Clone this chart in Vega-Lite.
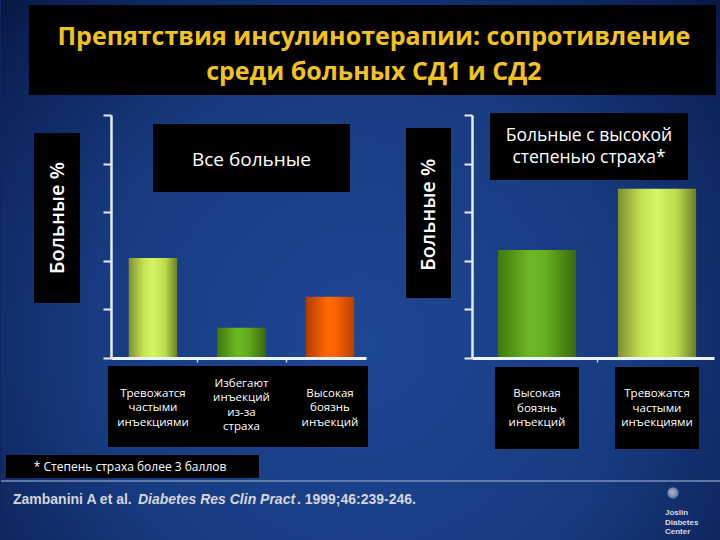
{
  "$schema": "https://vega.github.io/schema/vega-lite/v6.json",
  "width": 720,
  "height": 540,
  "autosize": {"type": "fit", "contains": "padding"},
  "padding": 0,
  "background": "#0f2560",
  "config": {"view": {"stroke": null}, "font": "Open Sans"},
  "datasets": {
    "allPatients": [
      {"reason": "Тревожатся\nчастыми\nинъекциями", "pct": 20.6},
      {"reason": "Избегают\nинъекций\nиз-за\nстраха", "pct": 6.2},
      {"reason": "Высокая\nбоязнь\nинъекций", "pct": 12.6}
    ],
    "fearful": [
      {"reason": "Высокая\nбоязнь\nинъекций", "pct": 22.2},
      {"reason": "Тревожатся\nчастыми\nинъекциями", "pct": 34.8}
    ]
  },
  "layer": [
    {
      "data": {"values": [{}]},
      "mark": {"type": "rect", "color": {"gradient": "radial", "x1": 0.5, "y1": 0.6, "r1": 0, "x2": 0.5, "y2": 0.6, "r2": 0.75, "stops": [{"offset": 0, "color": "#1e4794"}, {"offset": 0.5, "color": "#173b80"}, {"offset": 0.85, "color": "#0b1f52"}, {"offset": 1, "color": "#050d2a"}]}},
      "encoding": {
        "x": {"datum": 0, "type": "quantitative", "scale": {"domain": [0, 1], "range": [0, 720]}, "axis": null},
        "x2": {"datum": 1},
        "y": {"datum": 0, "type": "quantitative", "scale": {"domain": [0, 1], "range": [0, 540]}, "axis": null},
        "y2": {"datum": 1}
      }
    },
    {
      "data": {"values": [{"title": "Препятствия инсулинотерапии: сопротивление\nсреди больных СД1 и СД2"}]},
      "layer": [
        {
          "mark": {"type": "rect", "color": "#000000"},
          "encoding": {
            "x": {"datum": 0, "type": "quantitative", "scale": {"domain": [0, 1], "range": [28, 715]}, "axis": null},
            "x2": {"datum": 1},
            "y": {"datum": 0, "type": "quantitative", "scale": {"domain": [0, 1], "range": [5, 95]}, "axis": null},
            "y2": {"datum": 1}
          }
        },
        {
          "mark": {"type": "text", "color": "#f2c21e", "font": "Open Sans", "fontWeight": "bold", "fontSize": 25, "lineBreak": "\n", "lineHeight": 35, "align": "center", "baseline": "middle"},
          "encoding": {
            "x": {"datum": 0.502, "type": "quantitative", "axis": null},
            "y": {"datum": 0.356, "type": "quantitative", "axis": null},
            "text": {"field": "title"}
          }
        }
      ]
    },
    {
      "data": {"values": [{"t": "Больные %"}]},
      "layer": [
        {
          "mark": {"type": "rect", "color": "#000000"},
          "encoding": {
            "x": {"datum": 0, "type": "quantitative", "scale": {"domain": [0, 1], "range": [33, 79]}, "axis": null},
            "x2": {"datum": 1},
            "y": {"datum": 0, "type": "quantitative", "scale": {"domain": [0, 1], "range": [133, 303]}, "axis": null},
            "y2": {"datum": 1}
          }
        },
        {
          "mark": {"type": "text", "color": "#ffffff", "fontSize": 20, "fontWeight": 600, "angle": 270, "align": "center", "baseline": "middle"},
          "encoding": {
            "x": {"datum": 0.52, "type": "quantitative", "axis": null},
            "y": {"datum": 0.5, "type": "quantitative", "axis": null},
            "text": {"field": "t"}
          }
        }
      ]
    },
    {
      "data": {"values": [{"t": "Больные %"}]},
      "layer": [
        {
          "mark": {"type": "rect", "color": "#000000"},
          "encoding": {
            "x": {"datum": 0, "type": "quantitative", "scale": {"domain": [0, 1], "range": [405, 450]}, "axis": null},
            "x2": {"datum": 1},
            "y": {"datum": 0, "type": "quantitative", "scale": {"domain": [0, 1], "range": [128, 298]}, "axis": null},
            "y2": {"datum": 1}
          }
        },
        {
          "mark": {"type": "text", "color": "#ffffff", "fontSize": 20, "fontWeight": 600, "angle": 270, "align": "center", "baseline": "middle"},
          "encoding": {
            "x": {"datum": 0.52, "type": "quantitative", "axis": null},
            "y": {"datum": 0.51, "type": "quantitative", "axis": null},
            "text": {"field": "t"}
          }
        }
      ]
    },
    {
      "data": {"values": [{"t": "Все больные"}]},
      "layer": [
        {
          "mark": {"type": "rect", "color": "#000000"},
          "encoding": {
            "x": {"datum": 0, "type": "quantitative", "scale": {"domain": [0, 1], "range": [152, 349]}, "axis": null},
            "x2": {"datum": 1},
            "y": {"datum": 0, "type": "quantitative", "scale": {"domain": [0, 1], "range": [124, 192]}, "axis": null},
            "y2": {"datum": 1}
          }
        },
        {
          "mark": {"type": "text", "color": "#ffffff", "fontSize": 19, "align": "center", "baseline": "middle"},
          "encoding": {
            "x": {"datum": 0.5, "type": "quantitative", "axis": null},
            "y": {"datum": 0.53, "type": "quantitative", "axis": null},
            "text": {"field": "t"}
          }
        }
      ]
    },
    {
      "data": {"values": [{"t": "Больные с высокой\nстепенью страха*"}]},
      "layer": [
        {
          "mark": {"type": "rect", "color": "#000000"},
          "encoding": {
            "x": {"datum": 0, "type": "quantitative", "scale": {"domain": [0, 1], "range": [489, 687]}, "axis": null},
            "x2": {"datum": 1},
            "y": {"datum": 0, "type": "quantitative", "scale": {"domain": [0, 1], "range": [113, 180]}, "axis": null},
            "y2": {"datum": 1}
          }
        },
        {
          "mark": {"type": "text", "color": "#ffffff", "fontSize": 17.5, "lineBreak": "\n", "lineHeight": 22, "align": "center", "baseline": "middle"},
          "encoding": {
            "x": {"datum": 0.5, "type": "quantitative", "axis": null},
            "y": {"datum": 0.35, "type": "quantitative", "axis": null},
            "text": {"field": "t"}
          }
        }
      ]
    },
    {
      "data": {"values": [{}]},
      "mark": {"type": "rect", "color": "#000000"},
      "encoding": {
        "x": {"datum": 0, "type": "quantitative", "scale": {"domain": [0, 1], "range": [107, 367]}, "axis": null},
        "x2": {"datum": 1},
        "y": {"datum": 0, "type": "quantitative", "scale": {"domain": [0, 1], "range": [366, 447]}, "axis": null},
        "y2": {"datum": 1}
      }
    },
    {
      "data": {"name": "allPatients"},
      "layer": [
        {
          "mark": {"type": "bar"},
          "encoding": {
            "x": {
              "field": "reason", "type": "nominal", "sort": null,
              "scale": {"range": [110, 365], "paddingInner": 0.452, "paddingOuter": 0.167, "align": 0.6},
              "axis": {"orient": "bottom", "offset": -182, "labels": false, "title": null, "zindex": 1, "domainColor": "#eef2fa", "domainWidth": 3, "values": ["Тревожатся\nчастыми\nинъекциями", "Избегают\nинъекций\nиз-за\nстраха"], "bandPosition": 1, "tickOffset": 20, "tickSize": 4, "tickWidth": 1.5, "tickColor": "#c8d0e0"}
            },
            "y": {
              "field": "pct", "type": "quantitative",
              "scale": {"domain": [0, 50], "range": [358, 115], "nice": false},
              "axis": {"orient": "left", "offset": -110, "labels": false, "title": null, "grid": false, "zindex": 1, "values": [0, 10, 20, 30, 40, 50], "domainColor": "#e6ebf5", "domainWidth": 2.5, "tickColor": "#e6ebf5", "tickWidth": 2, "tickSize": 8}
            },
            "color": {
              "condition": [
                {"test": "indexof(datum.reason, 'Тревож') === 0", "value": {"gradient": "linear", "x1": 0, "y1": 0, "x2": 1, "y2": 0, "stops": [{"offset": 0, "color": "#7d8f2e"}, {"offset": 0.3, "color": "#c3e352"}, {"offset": 0.5, "color": "#d4f566"}, {"offset": 0.75, "color": "#bcdc4e"}, {"offset": 1, "color": "#6c7e28"}]}},
                {"test": "indexof(datum.reason, 'Избег') === 0", "value": {"gradient": "linear", "x1": 0, "y1": 0, "x2": 1, "y2": 0, "stops": [{"offset": 0, "color": "#3e780c"}, {"offset": 0.4, "color": "#6cb824"}, {"offset": 0.6, "color": "#66b020"}, {"offset": 1, "color": "#3a6a0c"}]}}
              ],
              "value": {"gradient": "linear", "x1": 0, "y1": 0, "x2": 1, "y2": 0, "stops": [{"offset": 0, "color": "#b03a00"}, {"offset": 0.45, "color": "#ff6a00"}, {"offset": 0.6, "color": "#ff6600"}, {"offset": 1, "color": "#b84000"}]}
            }
          }
        },
        {
          "transform": [{"filter": "indexof(datum.reason, 'Избег') !== 0"}],
          "mark": {"type": "text", "color": "#ffffff", "fontSize": 11.5, "lineBreak": "\n", "lineHeight": 14.5, "align": "center", "baseline": "middle"},
          "encoding": {
            "x": {"field": "reason", "type": "nominal", "sort": null},
            "y": {"datum": 0.34, "type": "quantitative", "scale": {"domain": [0, 1], "range": [366, 447]}, "axis": null},
            "text": {"field": "reason"}
          }
        },
        {
          "transform": [{"filter": "indexof(datum.reason, 'Избег') === 0"}],
          "mark": {"type": "text", "color": "#ffffff", "fontSize": 11.5, "lineBreak": "\n", "lineHeight": 14.5, "align": "center", "baseline": "middle"},
          "encoding": {
            "x": {"field": "reason", "type": "nominal", "sort": null},
            "y": {"datum": 0.22, "type": "quantitative", "scale": {"domain": [0, 1], "range": [366, 447]}, "axis": null},
            "text": {"field": "reason"}
          }
        }
      ],
      "resolve": {"scale": {"y": "independent"}, "axis": {"y": "independent"}}
    },
    {
      "data": {"name": "fearful"},
      "layer": [
        {
          "mark": {"type": "rect", "color": "#000000"},
          "encoding": {
            "x": {
              "field": "reason", "type": "nominal", "sort": null,
              "scale": {"range": [471, 713], "paddingInner": 0.3, "paddingOuter": 0.158, "align": 0.605},
              "axis": {"orient": "bottom", "offset": -182, "labels": false, "title": null, "zindex": 1, "domainColor": "#eef2fa", "domainWidth": 3, "values": ["Высокая\nбоязнь\nинъекций"], "bandPosition": 1, "tickOffset": 18, "tickSize": 4, "tickWidth": 1.5, "tickColor": "#c8d0e0"}
            },
            "y": {"datum": 0, "type": "quantitative", "scale": {"domain": [0, 1], "range": [367, 449]}, "axis": null},
            "y2": {"datum": 1}
          }
        },
        {
          "mark": {"type": "bar", "width": {"band": 0.93}},
          "encoding": {
            "x": {"field": "reason", "type": "nominal", "sort": null},
            "y": {
              "field": "pct", "type": "quantitative",
              "scale": {"domain": [0, 50], "range": [358, 115], "nice": false},
              "axis": {"orient": "left", "offset": -471, "labels": false, "title": null, "grid": false, "zindex": 1, "values": [0, 10, 20, 30, 40, 50], "domainColor": "#e6ebf5", "domainWidth": 2.5, "tickColor": "#e6ebf5", "tickWidth": 2, "tickSize": 8}
            },
            "color": {
              "condition": [
                {"test": "indexof(datum.reason, 'Тревож') === 0", "value": {"gradient": "linear", "x1": 0, "y1": 0, "x2": 1, "y2": 0, "stops": [{"offset": 0, "color": "#7d8f2e"}, {"offset": 0.3, "color": "#c3e352"}, {"offset": 0.5, "color": "#d4f566"}, {"offset": 0.75, "color": "#bcdc4e"}, {"offset": 1, "color": "#6c7e28"}]}}
              ],
              "value": {"gradient": "linear", "x1": 0, "y1": 0, "x2": 1, "y2": 0, "stops": [{"offset": 0, "color": "#3e780c"}, {"offset": 0.4, "color": "#6cb824"}, {"offset": 0.6, "color": "#66b020"}, {"offset": 1, "color": "#3a6a0c"}]}
            }
          }
        },
        {
          "mark": {"type": "text", "color": "#ffffff", "fontSize": 11.5, "lineBreak": "\n", "lineHeight": 14.5, "align": "center", "baseline": "middle"},
          "encoding": {
            "x": {"field": "reason", "type": "nominal", "sort": null},
            "y": {"datum": 0.33, "type": "quantitative", "scale": {"domain": [0, 1], "range": [367, 449]}, "axis": null},
            "text": {"field": "reason"}
          }
        }
      ],
      "resolve": {"scale": {"y": "independent"}, "axis": {"y": "independent"}}
    },
    {
      "data": {"values": [{"t": "* Степень страха более 3 баллов"}]},
      "layer": [
        {
          "mark": {"type": "rect", "color": "#000000"},
          "encoding": {
            "x": {"datum": 0, "type": "quantitative", "scale": {"domain": [0, 1], "range": [5, 258]}, "axis": null},
            "x2": {"datum": 1},
            "y": {"datum": 0, "type": "quantitative", "scale": {"domain": [0, 1], "range": [455, 478]}, "axis": null},
            "y2": {"datum": 1}
          }
        },
        {
          "mark": {"type": "text", "color": "#ffffff", "fontSize": 12, "align": "left", "baseline": "middle"},
          "encoding": {
            "x": {"datum": 0.11, "type": "quantitative", "axis": null},
            "y": {"datum": 0.5, "type": "quantitative", "axis": null},
            "text": {"field": "t"}
          }
        }
      ]
    },
    {
      "data": {"values": [{}]},
      "mark": {"type": "rule", "color": "#7088b8", "strokeWidth": 2, "opacity": 0.8},
      "encoding": {
        "x": {"datum": 0, "type": "quantitative", "scale": {"domain": [0, 1], "range": [0, 720]}, "axis": null},
        "x2": {"datum": 1},
        "y": {"datum": 0, "type": "quantitative", "scale": {"domain": [0, 1], "range": [481, 482]}, "axis": null}
      }
    },
    {
      "data": {"values": [{"a": "Zambanini A et al.", "b": "Diabetes Res Clin Pract", "c": ". 1999;46:239-246."}]},
      "layer": [
        {
          "mark": {"type": "text", "color": "#d4d6dc", "font": "Liberation Sans", "fontWeight": "bold", "fontSize": 14, "align": "left", "baseline": "middle"},
          "encoding": {
            "x": {"datum": 0, "type": "quantitative", "scale": {"domain": [0, 1], "range": [12, 415]}, "axis": null},
            "y": {"datum": 0, "type": "quantitative", "scale": {"domain": [0, 1], "range": [500, 501]}, "axis": null},
            "text": {"field": "a"}
          }
        },
        {
          "mark": {"type": "text", "color": "#d4d6dc", "font": "Liberation Sans", "fontWeight": "bold", "fontStyle": "italic", "fontSize": 14, "align": "left", "baseline": "middle"},
          "encoding": {
            "x": {"datum": 0.31, "type": "quantitative", "axis": null},
            "y": {"datum": 0, "type": "quantitative", "axis": null},
            "text": {"field": "b"}
          }
        },
        {
          "mark": {"type": "text", "color": "#d4d6dc", "font": "Liberation Sans", "fontWeight": "bold", "fontSize": 14, "align": "right", "baseline": "middle"},
          "encoding": {
            "x": {"datum": 1, "type": "quantitative", "axis": null},
            "y": {"datum": 0, "type": "quantitative", "axis": null},
            "text": {"field": "c"}
          }
        }
      ]
    },
    {
      "data": {"values": [{"t": "Joslin\nDiabetes\nCenter"}]},
      "layer": [
        {
          "mark": {"type": "point", "filled": true, "size": 130, "color": {"gradient": "radial", "x1": 0.4, "y1": 0.4, "r1": 0, "x2": 0.5, "y2": 0.5, "r2": 0.6, "stops": [{"offset": 0, "color": "#f2f4f8"}, {"offset": 0.6, "color": "#aab4c8"}, {"offset": 1, "color": "#5a6a8a"}]}},
          "encoding": {
            "x": {"datum": 0.5, "type": "quantitative", "scale": {"domain": [0, 1], "range": [664, 680]}, "axis": null},
            "y": {"datum": 0, "type": "quantitative", "scale": {"domain": [0, 1], "range": [493, 513]}, "axis": null}
          }
        },
        {
          "mark": {"type": "text", "color": "#d8dce8", "font": "Liberation Sans", "fontWeight": "bold", "fontSize": 8, "lineBreak": "\n", "lineHeight": 9.5, "align": "left", "baseline": "middle"},
          "encoding": {
            "x": {"datum": 0, "type": "quantitative", "axis": null},
            "y": {"datum": 1, "type": "quantitative", "axis": null},
            "text": {"field": "t"}
          }
        }
      ]
    }
  ],
  "resolve": {"scale": {"x": "independent", "y": "independent"}, "axis": {"x": "independent", "y": "independent"}}
}
